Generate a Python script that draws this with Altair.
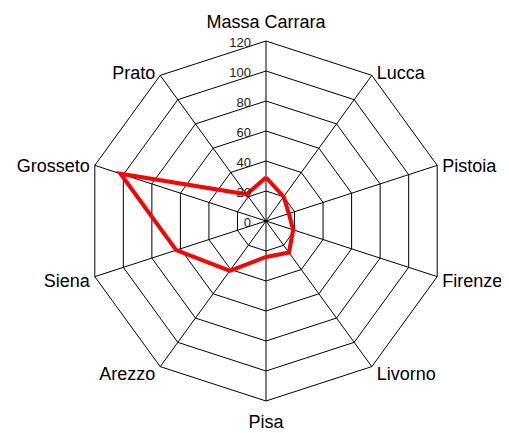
import altair as alt
import pandas as pd

# ---- data ----
cities = ["Massa Carrara", "Lucca", "Pistoia", "Firenze", "Livorno",
          "Pisa", "Arezzo", "Siena", "Grosseto", "Prato"]
values = [29, 20, 16, 19, 26, 24, 41, 63, 102, 22]
ring_levels = [20, 40, 60, 80, 100, 120]
tick_labels = [0, 20, 40, 60, 80, 100, 120]
r_max = 120

FONT = "Liberation Sans"
n = len(cities)

# tables built from the arrays
series_df = pd.DataFrame({
    "city": cities + [cities[0]],
    "value": values + [values[0]],
    "idx": list(range(n)) + [n],
})
ring_rows = []
for lv in ring_levels:
    for k in range(n + 1):
        ring_rows.append({"level": lv, "idx": k})
rings_df = pd.DataFrame(ring_rows)
spokes_df = pd.DataFrame({"idx": list(range(n)), "r": [r_max] * n})
labels_df = pd.DataFrame({"city": cities, "idx": list(range(n))})
ticks_df = pd.DataFrame({"v": tick_labels, "t": [str(t) for t in tick_labels]})

ang = f"datum.idx * 2 * PI / {n}"
xs = alt.Scale(domain=[-r_max, r_max], nice=False, zero=False)
ys = alt.Scale(domain=[-r_max, r_max], nice=False, zero=False)
X = lambda f: alt.X(f, type="quantitative", scale=xs, axis=None)
Y = lambda f: alt.Y(f, type="quantitative", scale=ys, axis=None)

rings = alt.Chart(rings_df).transform_calculate(
    a=ang,
    px="datum.level * sin(datum.a)",
    py="datum.level * cos(datum.a)",
).mark_line(color="black", strokeWidth=1).encode(
    x=X("px"), y=Y("py"), detail="level:N", order="idx:Q"
)

spokes = alt.Chart(spokes_df).transform_calculate(
    a=ang,
    x0="0",
    y0="0",
    px="datum.r * sin(datum.a)",
    py="datum.r * cos(datum.a)",
).mark_rule(color="black", strokeWidth=1).encode(
    x=X("x0"), y=Y("y0"), x2="px:Q", y2="py:Q"
)

series = alt.Chart(series_df).transform_calculate(
    a=ang,
    px="datum.value * sin(datum.a)",
    py="datum.value * cos(datum.a)",
).mark_line(color="#ff0000", strokeWidth=4, strokeJoin="miter").encode(
    x=X("px"), y=Y("py"), order="idx:Q"
)

ticks = alt.Chart(ticks_df).transform_calculate(
    x0="0"
).mark_text(font=FONT, fontSize=13, color="#222222", align="right",
            baseline="middle", dx=-15, dy=2).encode(
    x=X("x0"), y=Y("v"), text="t:N"
)

lab_base = alt.Chart(labels_df).transform_calculate(
    a=ang,
    s="sin(datum.a)",
    c="cos(datum.a)",
    oxp="abs(datum.s) < 0.01 ? 0 : (datum.s > 0 ? 5 : -5)",
    oyp="abs(datum.c) > 0.99 ? 2 - 20 * datum.c : 3.5 - 5.56 * datum.c",
    lx=f"{r_max} * datum.s + datum.oxp / 1.5",
    ly=f"{r_max} * datum.c - datum.oyp / 1.5",
)

def lab_layer(cond, align):
    return lab_base.transform_filter(cond).mark_text(
        font=FONT, fontSize=18, color="black", align=align, baseline="middle"
    ).encode(x=X("lx"), y=Y("ly"), text="city:N")

labels = (lab_layer("datum.s > 0.01", "left")
          + lab_layer("datum.s < -0.01", "right")
          + lab_layer("abs(datum.s) <= 0.01", "center"))

chart = alt.layer(rings, spokes, series, ticks, labels).properties(
    width=360, height=360,
    autosize=alt.AutoSizeParams(type="none"),
    padding={"left": 78, "top": 33, "right": 55, "bottom": 32},
).configure_view(stroke=None)

chart.save("out.html", embed_options={"renderer": "svg", "actions": False})
